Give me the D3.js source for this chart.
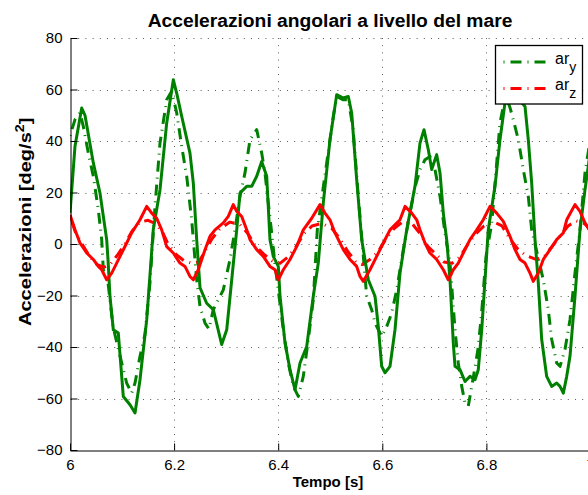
<!DOCTYPE html>
<html>
<head>
<meta charset="utf-8">
<script src="https://cdn.jsdelivr.net/npm/d3@7"></script>
<style>
  html, body { margin: 0; padding: 0; background: #fff; }
  svg { display: block; font-family: "Liberation Sans", Arial, Helvetica, sans-serif; }
</style>
</head>
<body>
<svg id="chart" width="588" height="495"></svg>
<script>
// Angular accelerations [deg/s^2] vs time [s], pairs of [t, value]
const arYMeasured = [
  [6.0000,12],[6.0096,38],[6.0225,52.8],[6.0288,50],[6.0448,31.5],[6.0576,19.8],[6.0705,1.7],[6.0730,-6],
  [6.0768,-20.3],[6.0832,-33.3],[6.0928,-34.6],[6.1024,-59.2],[6.1153,-62.4],[6.1249,-65.6],[6.1345,-52.7],
  [6.1474,-29.4],[6.1600,5.6],[6.1729,21],[6.1858,47],[6.1985,63.8],[6.2056,58],[6.2146,49.6],[6.2305,35.3],
  [6.2369,23.7],[6.2434,1.7],[6.2498,-17],[6.2626,-23],[6.2753,-25.5],[6.2914,-39],[6.3011,-33.3],[6.3107,-13.9],
  [6.3203,5.5],[6.3266,19.8],[6.3395,22.4],[6.3491,22.4],[6.3587,26.3],[6.3683,32],[6.3779,26.3],[6.3842,1.7],
  [6.3906,-4.8],[6.4002,-8.7],[6.4035,-20.3],[6.4131,-38.4],[6.4227,-48.8],[6.4323,-56.6],[6.4419,-46.2],
  [6.4548,-39.8],[6.4674,-20.3],[6.4770,-7.4],[6.4866,15.9],[6.4995,40.5],[6.5124,58],[6.5251,56.7],[6.5347,57.3],
  [6.5412,50.9],[6.5508,25],[6.5604,1.7],[6.5731,-13.9],[6.5860,-20.3],[6.5923,-32],[6.5988,-47.5],[6.6052,-50],
  [6.6148,-47.5],[6.6244,-33.3],[6.6340,-11.3],[6.6469,5.5],[6.6628,22.4],[6.6724,39.2],[6.6801,44.4],[6.6884,36.6],
  [6.6949,28.9],[6.7045,34.7],[6.7109,27.6],[6.7172,12],[6.7237,1.7],[6.7301,-13.9],[6.7364,-38.4],[6.7397,-47.5],
  [6.7493,-48.8],[6.7589,-53.4],[6.7685,-51.4],[6.7781,-52.7],[6.7844,-48.8],[6.7910,-33.3],[6.7973,-13.9],
  [6.8036,5.5],[6.8165,22.4],[6.8261,40.5],[6.8357,54.8],[6.8550,58],[6.8742,53.4],[6.8805,40.5],[6.8870,23.7],
  [6.8934,1.7],[6.8997,-15],[6.9062,-37],[6.9158,-51.4],[6.9254,-55.3],[6.9350,-54],[6.9414,-55.3],[6.9478,-57.9],
  [6.9543,-51.4],[6.9606,-43.6],[6.9702,-20.3],[6.9798,5.5],[6.9894,21],[6.9990,35]
];

const arY = [
  [6.0000,42],[6.0096,48.3],[6.0192,50.9],[6.0256,45.7],[6.0352,35.3],[6.0448,26.3],[6.0544,13.3],[6.0609,1.7],
  [6.0640,-10],[6.0730,-15],[6.0826,-32],[6.0993,-46.2],[6.1089,-54],[6.1185,-57.9],[6.1249,-54],[6.1345,-43.6],
  [6.1441,-35],[6.1537,-15],[6.1633,14.6],[6.1729,39.2],[6.1858,56],[6.1954,59.3],[6.2050,50.9],[6.2146,37.9],
  [6.2242,26.3],[6.2338,9.4],[6.2369,1.7],[6.2434,-13.9],[6.2498,-24.2],[6.2594,-30.7],[6.2670,-33],[6.2753,-25.5],
  [6.2945,-17.8],[6.3074,-6],[6.3170,5.5],[6.3266,18.5],[6.3362,27.6],[6.3458,40.5],[6.3587,44.4],[6.3683,35.3],
  [6.3746,27.6],[6.3810,15.9],[6.3875,4.3],[6.3939,-8],[6.4098,-33.3],[6.4194,-46.2],[6.4290,-55.3],[6.4386,-59.2],
  [6.4482,-51.4],[6.4578,-37.2],[6.4674,-21.6],[6.4751,5.5],[6.4932,31.5],[6.5059,49.6],[6.5124,57.3],[6.5251,56],
  [6.5347,56],[6.5437,45],[6.5539,18.5],[6.5604,3],[6.5700,-20.3],[6.5796,-25.5],[6.5860,-30.7],[6.5988,-35.9],
  [6.6085,-32],[6.6181,-26.8],[6.6277,-17.8],[6.6403,-2.2],[6.6532,12],[6.6628,22],[6.6724,28.9],[6.6820,32.7],
  [6.6916,34],[6.7012,28.9],[6.7109,18.5],[6.7205,4.3],[6.7301,-7.4],[6.7397,-33.3],[6.7460,-46.2],[6.7526,-55.3],
  [6.7589,-61.7],[6.7652,-63],[6.7718,-55.3],[6.7781,-48],[6.7844,-40],[6.7915,-25],[6.7992,-5],[6.8102,8],
  [6.8198,31.5],[6.8261,47],[6.8325,53.4],[6.8396,56],[6.8453,53],[6.8517,48.3],[6.8613,40.5],[6.8709,28.9],
  [6.8805,18.5],[6.8870,5.5],[6.8991,-5],[6.9093,-13.9],[6.9189,-25.5],[6.9254,-37],[6.9350,-46.2],[6.9414,-47.5],
  [6.9510,-41],[6.9606,-29.4],[6.9702,-11.3],[6.9798,5.5],[6.9894,27.6],[6.9990,40]
];

const arZMeasured = [
  [6.0000,11.4],[6.0096,5.5],[6.0192,0.4],[6.0321,-3.5],[6.0448,-6],[6.0544,-8.7],[6.0609,-10],[6.0705,-13.9],
  [6.0801,-11.3],[6.0897,-7.4],[6.0993,-3.5],[6.1089,0.4],[6.1185,4.3],[6.1345,9.4],[6.1474,14.6],[6.1570,12],
  [6.1666,10],[6.1762,5.5],[6.1858,-1],[6.1985,-3.5],[6.2113,-7.4],[6.2209,-8.7],[6.2305,-12.6],[6.2369,-13.9],
  [6.2465,-10],[6.2594,-2.2],[6.2690,3],[6.2786,5.5],[6.2945,8.2],[6.3041,10.7],[6.3137,15.3],[6.3203,12.7],
  [6.3299,10.7],[6.3395,5.5],[6.3458,1.7],[6.3587,-2.2],[6.3714,-4.8],[6.3842,-8.7],[6.3939,-10],[6.4002,-13.9],
  [6.4098,-10],[6.4227,-6],[6.4355,-1],[6.4482,5.5],[6.4644,10],[6.4803,15.3],[6.4899,12],[6.4995,9.4],
  [6.5091,4.3],[6.5251,-2.2],[6.5380,-6],[6.5508,-8.7],[6.5572,-12.6],[6.5635,-14.5],[6.5764,-10],[6.5892,-4.8],
  [6.6019,0.4],[6.6148,5.5],[6.6340,9.4],[6.6436,14.6],[6.6565,12],[6.6661,9.4],[6.6724,5.5],[6.6820,0.4],
  [6.6916,-3.5],[6.7045,-6],[6.7172,-10],[6.7268,-13.9],[6.7364,-10],[6.7460,-7.4],[6.7556,-3.5],[6.7685,1.7],
  [6.7814,5.5],[6.7940,9.4],[6.8069,14.6],[6.8198,12],[6.8325,8.8],[6.8453,3],[6.8550,-2.2],[6.8646,-6],
  [6.8742,-7.4],[6.8838,-11.3],[6.8901,-14.5],[6.8997,-11.3],[6.9093,-6],[6.9222,-2.2],[6.9350,1.7],[6.9478,4.3],
  [6.9543,9.4],[6.9702,15.3],[6.9798,12.7],[6.9894,8.2],[6.9990,5]
];

const arZ = [
  [6.0000,11],[6.0096,5],[6.0231,0],[6.0384,-5],[6.0519,-8],[6.0653,-9],[6.0768,-8],[6.0922,-4],[6.1057,0],
  [6.1191,5],[6.1345,8.5],[6.1499,9.2],[6.1633,8],[6.1768,5],[6.1883,0],[6.2037,-4],[6.2190,-6.5],[6.2344,-7.5],
  [6.2478,-7],[6.2613,-2],[6.2728,2],[6.2882,6],[6.3074,8.5],[6.3266,7.5],[6.3420,4],[6.3573,-1],[6.3727,-4],
  [6.3881,-6.5],[6.4035,-7.5],[6.4188,-5],[6.4342,-1],[6.4496,4],[6.4649,7],[6.4841,8],[6.5034,6],[6.5187,2],
  [6.5341,-3],[6.5495,-7],[6.5610,-8],[6.5764,-6],[6.5917,-3],[6.6071,2],[6.6225,6],[6.6417,9],[6.6571,8],
  [6.6724,4],[6.6878,-1],[6.7032,-4],[6.7185,-7],[6.7339,-7.5],[6.7493,-5],[6.7646,0],[6.7800,4],[6.7954,7],
  [6.8146,8.5],[6.8300,7],[6.8453,2],[6.8607,-2],[6.8761,-4.5],[6.8953,-6],[6.9107,-5],[6.9260,-1],[6.9414,3],
  [6.9568,7],[6.9722,9],[6.9875,8],[6.9990,6]
];

const xTicks = [6, 6.2, 6.4, 6.6, 6.8, 7];
const xTickLabels = ["6", "6.2", "6.4", "6.6", "6.8", "7"];
const yTicks = [-80, -60, -40, -20, 0, 20, 40, 60, 80];
const yTickLabels = ["\u221280", "\u221260", "\u221240", "\u221220", "0", "20", "40", "60", "80"];

const GREEN = "#008000", RED = "#ff0000";
const DASHDOT = "1,6,11,6";

const svg = d3.select("#chart");
const plotLeft = 70, plotRight = 590.5, plotTop = 38, plotBottom = 450;

const x = d3.scaleLinear().domain([6, 7]).range([plotLeft, plotRight]);
const y = d3.scaleLinear().domain([-80, 80]).range([plotBottom, plotTop]);

// dotted grid
const grid = svg.append("g").attr("stroke", "#5a5a5a").attr("stroke-width", 1)
  .attr("stroke-dasharray", "1,6.2").attr("fill", "none");
grid.selectAll("line.h").data(yTicks.filter(d => d > -80)).join("line")
  .attr("class", "h")
  .attr("x1", plotLeft + 1).attr("x2", plotRight)
  .attr("y1", d => Math.round(y(d)) + 0.5).attr("y2", d => Math.round(y(d)) + 0.5);
grid.selectAll("line.v").data(xTicks.filter(d => d > 6)).join("line")
  .attr("class", "v")
  .attr("y1", plotTop).attr("y2", plotBottom)
  .attr("x1", d => Math.round(x(d)) + 0.5).attr("x2", d => Math.round(x(d)) + 0.5);

// series
svg.append("defs").append("clipPath").attr("id", "plotArea")
  .append("rect").attr("x", plotLeft).attr("y", plotTop)
  .attr("width", plotRight - plotLeft).attr("height", plotBottom - plotTop);

const line = d3.line().x(d => x(d[0])).y(d => y(d[1])).curve(d3.curveLinear);
const plot = svg.append("g").attr("clip-path", "url(#plotArea)").attr("fill", "none")
  .attr("stroke-linejoin", "round");

plot.append("path").datum(arY).attr("d", line)
  .attr("stroke", GREEN).attr("stroke-width", 3).attr("stroke-dasharray", DASHDOT);
plot.append("path").datum(arZ).attr("d", line)
  .attr("stroke", RED).attr("stroke-width", 3).attr("stroke-dasharray", DASHDOT);
plot.append("path").datum(arYMeasured).attr("d", line)
  .attr("stroke", GREEN).attr("stroke-width", 3);
plot.append("path").datum(arZMeasured).attr("d", line)
  .attr("stroke", RED).attr("stroke-width", 3);

// axes
const xAxis = d3.axisBottom(x).tickValues(xTicks)
  .tickFormat((d, i) => xTickLabels[i]).tickSize(-7).tickSizeOuter(0).tickPadding(9);
const yAxis = d3.axisLeft(y).tickValues(yTicks)
  .tickFormat((d, i) => yTickLabels[i]).tickSize(-7).tickSizeOuter(0).tickPadding(8);

const gx = svg.append("g").attr("transform", `translate(0,${plotBottom + 0.5})`).call(xAxis);
const gy = svg.append("g").attr("transform", `translate(${plotLeft + 0.5},0)`).call(yAxis);
[gx, gy].forEach(g => {
  g.select(".domain").attr("stroke", "#000");
  g.selectAll(".tick line").attr("stroke", "#000");
  g.selectAll(".tick text").attr("fill", "#000")
    .style("font-family", '"Liberation Sans", Arial, sans-serif').style("font-size", "15px");
});

// title
svg.append("text")
  .attr("transform", "translate(330,27) scale(1.07,1)")
  .attr("text-anchor", "middle")
  .style("font-size", "18px").style("font-weight", "bold")
  .text("Accelerazioni angolari a livello del mare");

// x label
svg.append("text")
  .attr("x", 328).attr("y", 487)
  .attr("text-anchor", "middle")
  .style("font-size", "15px").style("font-weight", "bold")
  .text("Tempo [s]");

// y label with superscript
const yl = svg.append("text")
  .attr("transform", "translate(31,326) rotate(-90) scale(1.18,1)")
  .style("font-size", "17px").style("font-weight", "bold");
yl.append("tspan").text("Accelerazioni [deg/s");
yl.append("tspan").attr("dy", -7).style("font-size", "12px").text("2");
yl.append("tspan").attr("dy", 7).text("]");

// legend
const legendItems = [
  { name: "ar", sub: "y", color: GREEN },
  { name: "ar", sub: "z", color: RED }
];
const lg = svg.append("g");
lg.append("rect").attr("x", 495.5).attr("y", 45.5).attr("width", 87).attr("height", 58.5)
  .attr("fill", "#fff").attr("stroke", "#000").attr("stroke-width", 1.3);
legendItems.forEach((it, i) => {
  const ly = 62 + i * 26.5;
  lg.append("line").attr("x1", 503.5).attr("x2", 546).attr("y1", ly).attr("y2", ly)
    .attr("stroke", it.color).attr("stroke-width", 3).attr("stroke-dasharray", DASHDOT);
  const t = lg.append("text").attr("x", 555).attr("y", ly + 1.5).style("font-size", "16px");
  t.append("tspan").text(it.name);
  t.append("tspan").attr("dy", 8).style("font-size", "14px").text(it.sub);
});
</script>
</body>
</html>
